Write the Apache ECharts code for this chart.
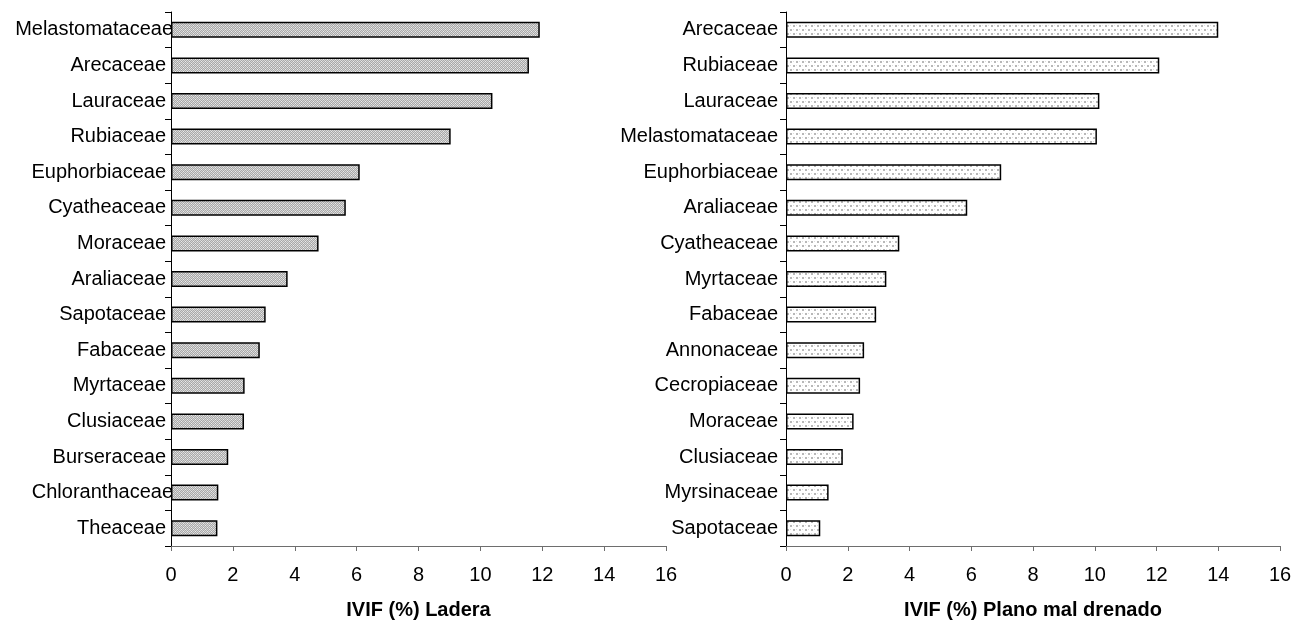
<!DOCTYPE html>
<html>
<head>
<meta charset="utf-8">
<script src="https://cdn.jsdelivr.net/npm/echarts@6/dist/echarts.min.js"></script>
<style>
  html, body { margin: 0; padding: 0; background: #fff; }
  #chart { width: 1309px; height: 623px; }
</style>
</head>
<body>
<div id="chart"></div>
<script>
// Importance value index by family (IVIF, %), two habitats
const laderaFamilies = ['Melastomataceae', 'Arecaceae', 'Lauraceae', 'Rubiaceae', 'Euphorbiaceae', 'Cyatheaceae', 'Moraceae', 'Araliaceae', 'Sapotaceae', 'Fabaceae', 'Myrtaceae', 'Clusiaceae', 'Burseraceae', 'Chloranthaceae', 'Theaceae'];
const laderaValues = [11.92, 11.57, 10.39, 9.04, 6.1, 5.65, 4.77, 3.77, 3.06, 2.87, 2.38, 2.36, 1.85, 1.53, 1.5];

const planoFamilies = ['Arecaceae', 'Rubiaceae', 'Lauraceae', 'Melastomataceae', 'Euphorbiaceae', 'Araliaceae', 'Cyatheaceae', 'Myrtaceae', 'Fabaceae', 'Annonaceae', 'Cecropiaceae', 'Moraceae', 'Clusiaceae', 'Myrsinaceae', 'Sapotaceae'];
const planoValues = [14.0, 12.09, 10.15, 10.07, 6.97, 5.87, 3.67, 3.25, 2.92, 2.53, 2.4, 2.19, 1.84, 1.38, 1.11];

const xTicks = { min: 0, max: 16, interval: 2 };
const axisTitles = ['IVIF (%) Ladera', 'IVIF (%) Plano mal drenado'];

// Fill patterns for the bars
function crossHatch() {
  const c = document.createElement('canvas');
  c.width = 4; c.height = 4;
  const g = c.getContext('2d');
  g.fillStyle = '#a9a9a9'; g.fillRect(0, 0, 4, 4);
  g.fillStyle = '#d6d6d6';
  g.fillRect(0, 0, 1, 1); g.fillRect(2, 0, 1, 1);
  g.fillRect(1, 1, 1, 1); g.fillRect(3, 1, 1, 1);
  g.fillRect(0, 2, 1, 1); g.fillRect(2, 2, 1, 1);
  g.fillRect(1, 3, 1, 1); g.fillRect(3, 3, 1, 1);
  g.fillStyle = '#ececec';
  g.fillRect(1, 1, 1, 1); g.fillRect(3, 3, 1, 1);
  return c;
}
function dotted() {
  const c = document.createElement('canvas');
  c.width = 6; c.height = 8;
  const g = c.getContext('2d');
  g.fillStyle = '#ffffff'; g.fillRect(0, 0, 6, 8);
  g.fillStyle = '#b8b8b8';
  g.fillRect(1, 1, 2, 2);
  g.fillRect(4, 5, 2, 2);
  g.fillStyle = '#dedede';
  g.fillRect(4, 1, 1, 1);
  g.fillRect(1, 5, 1, 1);
  return c;
}

const font = 'Arial, "Liberation Sans", sans-serif';
const grids = [
  { left: 171, right: 643, top: 12, bottom: 77, outerBoundsMode: 'none' },
  { left: 786, right: 29, top: 12, bottom: 77, outerBoundsMode: 'none' }
];

function xAxis(i) {
  return {
    type: 'value', gridIndex: i,
    min: xTicks.min, max: xTicks.max, interval: xTicks.interval,
    name: axisTitles[i], nameLocation: 'middle', nameGap: 54,
    nameTextStyle: { fontFamily: font, fontSize: 20, fontWeight: 'bold', color: '#000' },
    axisLine: { show: true, lineStyle: { color: '#6e6e6e', width: 1 } },
    axisTick: { show: true, length: 5, lineStyle: { color: '#6e6e6e' } },
    splitLine: { show: false },
    axisLabel: { fontFamily: font, fontSize: 20, color: '#000', margin: 19 }
  };
}
// Long names sit closer to the axis line
function yAxis(i, cats, margin, longShift) {
  return {
    type: 'category', gridIndex: i, inverse: true,
    data: cats.map(name => name.length >= 14 && longShift
      ? { value: name, textStyle: { padding: [4, -longShift, 0, 0] } }
      : name),
    axisLine: { show: true, lineStyle: { color: '#000', width: 1 } },
    axisTick: { show: true, length: 6, interval: 0, lineStyle: { color: '#000' } },
    axisLabel: { fontFamily: font, fontSize: 20, color: '#000', margin: margin, interval: 0, padding: [4, 0, 0, 0] }
  };
}
function barSeries(i, vals, pattern) {
  return {
    type: 'bar', xAxisIndex: i, yAxisIndex: i, data: vals,
    barCategoryGap: '55%',
    itemStyle: { color: { image: pattern, repeat: 'repeat' }, borderColor: '#000', borderWidth: 1.5 },
    silent: true, animation: false
  };
}

const chart = echarts.init(document.getElementById('chart'), null, { renderer: 'canvas' });
chart.setOption({
  backgroundColor: '#fff',
  animation: false,
  grid: grids,
  xAxis: [xAxis(0), xAxis(1)],
  yAxis: [yAxis(0, laderaFamilies, 5, 7), yAxis(1, planoFamilies, 8, 0)],
  series: [barSeries(0, laderaValues, crossHatch()), barSeries(1, planoValues, dotted())]
});
</script>
</body>
</html>
